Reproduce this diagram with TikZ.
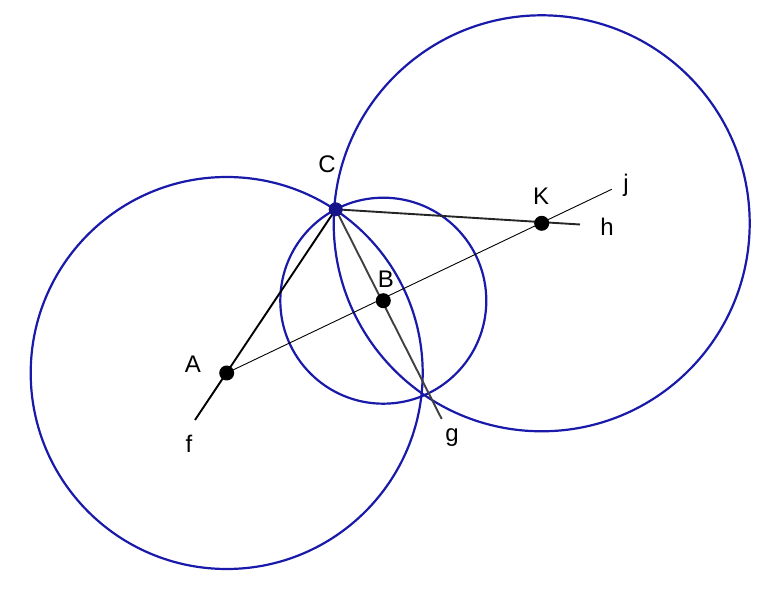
\documentclass[tikz,border=0pt]{standalone}
\usepackage{fontspec}
\setmainfont{Liberation Sans}
\usetikzlibrary{calc}
\definecolor{circblue}{RGB}{25,25,170}
\tikzset{
    circ/.style={draw=circblue, line width=2.2pt},
    seg/.style={line width=1.9pt},
    thinseg/.style={line width=0.9pt},
    dot/.style={circle, fill=black, inner sep=0pt, minimum size=15pt},
    lbl/.style={font=\fontsize{24}{29}\selectfont, inner sep=0pt}
}
\begin{document}
\begin{tikzpicture}[x=1pt,y=-1pt]
    \useasboundingbox (0,0) rectangle (777,609);
    % points
    \coordinate (A) at (226.7,373);
    \coordinate (B) at (383.3,300.7);
    \coordinate (C) at (335.7,209.3);
    \coordinate (K) at (541.7,223.3);
    \coordinate (fend) at (195,420);
    \coordinate (gend) at (441.7,419);
    \coordinate (hend) at (580,224.5);
    \coordinate (jend) at (611.7,189.3);
    % circles
    \draw[circ] (A) circle[radius=196pt];
    \draw[circ] (B) circle[radius=103pt];
    \draw[circ] (K) circle[radius=208pt];
    % lines
    \draw[thinseg] (A) -- (jend); % j
    \draw[seg] (fend) -- (C); % f
    \draw[seg, black!75] (C) -- (gend); % g
    \draw[seg, black!85] (C) -- (hend); % h
    % dots
    \node[dot] (dA) at (A) {};
    \node[dot] (dB) at (B) {};
    \node[dot] (dK) at (K) {};
    \node[dot, fill=circblue!80!black, minimum size=14pt] (dC) at (C) {};
    % labels
    \node[lbl] (lA) at (193,364) {A};
    \node[lbl] (lB) at (386,279) {B};
    \node[lbl] (lC) at (327,164) {C};
    \node[lbl] (lK) at (541,196) {K};
    \node[lbl] (lf) at (189,444) {f};
    \node[lbl] (lg) at (452,438) {g};
    \node[lbl] (lh) at (607,227) {h};
    \node[lbl] (lj) at (626,185) {j};
\end{tikzpicture}
\end{document}
